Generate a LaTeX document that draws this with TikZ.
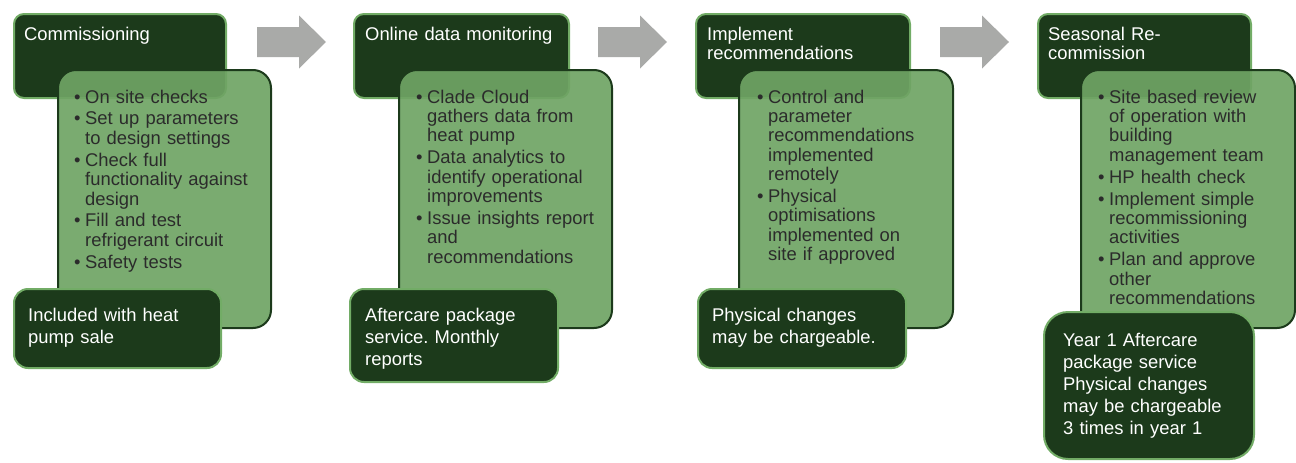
\documentclass[tikz,border=0pt]{standalone}
\usepackage{fontspec}
\setmainfont{Liberation Sans}
\frenchspacing
\usetikzlibrary{positioning}
\definecolor{darkgreen}{HTML}{1C3A1B}
\definecolor{edgegreen}{HTML}{72AC66}
\definecolor{lightgreen}{HTML}{6FA464}
\definecolor{arrowgray}{HTML}{A9AAA8}
\definecolor{textgray}{HTML}{2B2B2B}
\newcommand{\bul}[1]{\hangindent=11pt\hangafter=1\noindent\makebox[11pt][l]{\textbullet}#1\par\vspace{2.5pt}}

\begin{document}
\begin{tikzpicture}[x=1pt,y=-1pt,
    headbox/.style={draw=edgegreen,line width=2pt,fill=darkgreen,rounded corners=10pt,anchor=north west,inner sep=0pt},
    bodybox/.style={draw=darkgreen,line width=2pt,fill=lightgreen,fill opacity=0.92,rounded corners=18pt,anchor=north west,inner sep=0pt},
    basebox/.style={draw=edgegreen,line width=2pt,fill=darkgreen,rounded corners=14pt,anchor=north west,inner sep=0pt},
    steptitle/.style={text=white,font=\fontsize{18.4}{19.8}\selectfont,text width=200pt,align=left,inner sep=0pt},
    steplist/.style={text=textgray,font=\fontsize{18.4}{19.4}\selectfont,text width=200pt,align=left,inner sep=0pt},
    stepnote/.style={text=white,font=\fontsize{18.4}{22}\selectfont,text width=200pt,align=left,inner sep=0pt}]
  \useasboundingbox (0,0) rectangle (1296,463);
  % arrows between the steps
  \foreach \x in {257,598,940}
  \fill [arrowgray] (\x,27) -- ++(42,0) -- ++(0,-11.5) -- ++(27,26.5) -- ++(-27,26.5) -- ++(0,-11.5) -- ++(-42,0) -- cycle;

  % step 1
  \node [headbox, minimum width=212pt, minimum height=84pt] (comtop) at (13,13) {};
  \node [bodybox, minimum width=213pt, minimum height=258pt] (combody) at (57,69) {};
  \node [basebox, minimum width=207pt, minimum height=79pt] (combase) at (13,288) {};
  \node [steptitle, below right=13.5pt and 11pt of comtop.north west] (comtitle) {Commissioning};
  \node [steplist, below right=20.5pt and 17pt of combody.north west] (comlist)
    {\bul{On site checks}\bul{Set up parameters\newline to design settings}%
     \bul{Check full\newline functionality against\newline design}%
     \bul{Fill and test\newline refrigerant circuit}\bul{Safety tests}};
  \node [stepnote, below right=19.8pt and 15pt of combase.north west] (comnote) {Included with heat\\pump sale};

  % step 2
  \node [headbox, minimum width=215pt, minimum height=84pt] (montop) at (353,13) {};
  \node [bodybox, minimum width=213pt, minimum height=258pt] (monbody) at (398,69) {};
  \node [basebox, minimum width=208pt, minimum height=93pt] (monbase) at (349,288) {};
  \node [steptitle, below right=13.5pt and 12pt of montop.north west] (montitle) {Online data monitoring};
  \node [steplist, below right=20.5pt and 18pt of monbody.north west] (monlist)
    {\bul{Clade Cloud\newline gathers data from\newline heat pump}%
     \bul{Data analytics to\newline identify operational\newline improvements}%
     \bul{Issue insights report\newline and\newline recommendations}};
  \node [stepnote, below right=19.8pt and 16pt of monbase.north west] (monnote) {Aftercare package\\service. Monthly\\reports};

  % step 3
  \node [headbox, minimum width=214pt, minimum height=84pt] (imptop) at (695,13) {};
  \node [bodybox, minimum width=214pt, minimum height=258pt] (impbody) at (738,69) {};
  \node [basebox, minimum width=208pt, minimum height=79pt] (impbase) at (697,288) {};
  \node [steptitle, below right=13.5pt and 12pt of imptop.north west] (imptitle) {Implement\\recommendations};
  \node [steplist, below right=20.5pt and 19pt of impbody.north west] (implist)
    {\bul{Control and\newline parameter\newline recommendations\newline implemented\newline remotely}%
     \bul{Physical\newline optimisations\newline implemented on\newline site if approved}};
  \node [stepnote, below right=19.8pt and 15pt of impbase.north west] (impnote) {Physical changes\\may be chargeable.};

  % step 4
  \node [headbox, minimum width=213pt, minimum height=84pt] (seatop) at (1037,13) {};
  \node [bodybox, minimum width=214pt, minimum height=258pt] (seabody) at (1080,69) {};
  \node [basebox, minimum width=210pt, minimum height=147pt, rounded corners=24pt] (seabase) at (1043,311) {};
  \node [steptitle, below right=13.5pt and 11pt of seatop.north west] (seatitle) {Seasonal Re-\\commission};
  \node [steplist, below right=20.5pt and 18pt of seabody.north west] (sealist)
    {\bul{Site based review\newline of operation with\newline building\newline management team}%
     \bul{HP health check}%
     \bul{Implement simple\newline recommissioning\newline activities}%
     \bul{Plan and approve\newline other\newline recommendations}};
  \node [stepnote, below right=21.8pt and 20pt of seabase.north west] (seanote)
    {Year 1 Aftercare\\package service\\Physical changes\\may be chargeable\\3 times in year 1};
\end{tikzpicture}
\end{document}
